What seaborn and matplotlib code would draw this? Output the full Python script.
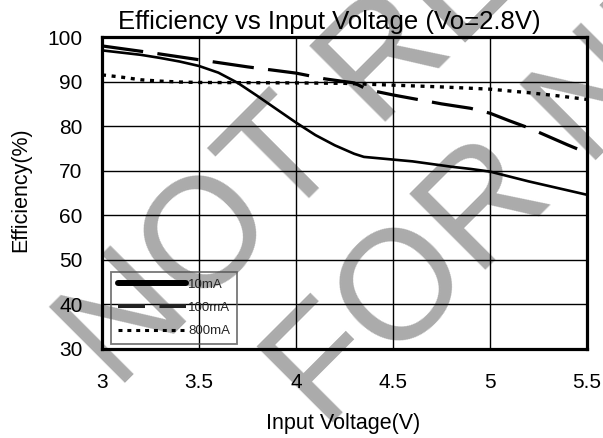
import numpy as np
import pandas as pd
import matplotlib
matplotlib.use("Agg")
import matplotlib.pyplot as plt
import seaborn as sns
from matplotlib.lines import Line2D

# ---- data ----
v_10 = [3.0, 3.1, 3.2, 3.3, 3.4, 3.5, 3.6, 3.7, 3.8, 3.9, 4.0, 4.1, 4.2, 4.3, 4.35,
        4.4, 4.5, 4.6, 4.7, 4.8, 4.9, 5.0, 5.1, 5.2, 5.3, 5.4, 5.5]
eff_10 = [97.0, 96.5, 96.0, 95.3, 94.5, 93.5, 92.0, 89.7, 86.8, 83.8, 80.8, 78.0, 75.7, 73.8, 73.1,
          72.9, 72.5, 72.1, 71.5, 70.9, 70.4, 69.8, 68.7, 67.6, 66.6, 65.6, 64.6]

v_100 = [3.0, 3.25, 3.5, 3.75, 4.0, 4.15, 4.3, 4.36, 4.4, 4.5, 4.6, 4.75, 4.9, 5.0,
         5.1, 5.2, 5.3, 5.4, 5.5]
eff_100 = [98.0, 96.5, 94.9, 93.3, 91.9, 90.6, 89.7, 88.4, 87.9, 87.0, 86.2, 85.0, 84.0, 82.9,
           81.2, 79.6, 77.7, 75.8, 74.0]

v_800 = [3.0, 3.1, 3.2, 3.3, 3.4, 3.5, 4.0, 4.25, 4.5, 4.75, 5.0, 5.2, 5.35, 5.5]
eff_800 = [91.5, 91.0, 90.4, 90.1, 89.9, 89.8, 89.7, 89.6, 89.2, 88.8, 88.3, 87.5, 86.8, 86.0]

series_names = ["10mA", "100mA", "800mA"]
x_ticks = [3, 3.5, 4, 4.5, 5, 5.5]
x_tick_labels = ["3", "3.5", "4", "4.5", "5", "5.5"]
y_ticks = [30, 40, 50, 60, 70, 80, 90, 100]

title = "Efficiency vs Input Voltage (Vo=2.8V)"
xlabel = "Input Voltage(V)"
ylabel = "Efficiency(%)"
watermark = ["NOT RECOMMENDED", "FOR NEW DESIGNS"]

df = pd.concat([
    pd.DataFrame({"V": v_10, "Eff": eff_10, "Load": series_names[0]}),
    pd.DataFrame({"V": v_100, "Eff": eff_100, "Load": series_names[1]}),
    pd.DataFrame({"V": v_800, "Eff": eff_800, "Load": series_names[2]}),
])

sns.set_theme(style="white")
plt.rcParams["font.family"] = ["Liberation Sans", "DejaVu Sans"]

W, H = 603, 438
fig = plt.figure(figsize=(W / 100, H / 100), dpi=100)
ax = fig.add_axes([102 / W, 1 - 349 / H, 485 / W, 312 / H])
ax.set_facecolor("none")

styles = {
    "10mA": dict(lw=1.9, ls="-"),
    "100mA": dict(lw=2.3, ls=(0, (13, 4.5))),
    "800mA": dict(lw=2.4, ls=(0, (1.2, 1.7))),
}
for name in series_names:
    sub = df[df["Load"] == name]
    sns.lineplot(data=sub, x="V", y="Eff", ax=ax, color="black",
                 linewidth=styles[name]["lw"], linestyle=styles[name]["ls"],
                 estimator=None, sort=False, legend=False, zorder=3)

ax.set_xlim(3, 5.5)
ax.set_ylim(30, 100)
ax.set_xticks(x_ticks)
ax.set_xticklabels(x_tick_labels)
ax.set_yticks(y_ticks)
ax.tick_params(axis="both", length=0, labelsize=15, colors="black")
ax.tick_params(axis="y", pad=14)
ax.tick_params(axis="x", pad=17)
ax.grid(True, color="black", linewidth=1.0)
ax.set_axisbelow(True)
for s in ax.spines.values():
    s.set_color("black")
    s.set_linewidth(2.3)
    s.set_zorder(4)

ax.set_xlabel(xlabel, fontsize=15.5, color="black")
ax.set_ylabel(ylabel, fontsize=15.5, color="black")
ax.xaxis.set_label_coords((343 - 102) / 485, (349 - 413) / 312)
ax.yaxis.set_label_coords((31 - 102) / 485, (349 - 190) / 312)

fig.text(329 / W, 1 - 29.5 / H, title, fontsize=18.5, ha="center", va="baseline", color="black")

handles = [
    Line2D([], [], color="black", lw=4.3, ls="-"),
    Line2D([], [], color="#222222", lw=2.9, ls=(0, (6.7, 3.6))),
    Line2D([], [], color="black", lw=2.2, ls=(0, (1.3, 1.6))),
]
leg = ax.legend(handles, series_names, loc="lower left",
                bbox_to_anchor=((111 - 102) / 485, (349 - 344) / 312),
                borderaxespad=0, fontsize=9.5, handlelength=5.2, handletextpad=0.15,
                labelspacing=0.85, borderpad=0.5, frameon=True, fancybox=False)
leg.get_frame().set_edgecolor("#555555")
leg.get_frame().set_facecolor("none")
leg.get_frame().set_linewidth(1.3)
leg.set_zorder(5)

# watermark (behind the chart)
wm_kw = dict(fontsize=112, color="#ababab", rotation=45, rotation_mode="anchor",
             ha="left", va="baseline", zorder=-1)
fig.text(117 / W, 1 - 392 / H, watermark[0], **wm_kw)
fig.text(325 / W, 1 - 432 / H, watermark[1], **wm_kw)

fig.savefig("out.png", dpi=100)
